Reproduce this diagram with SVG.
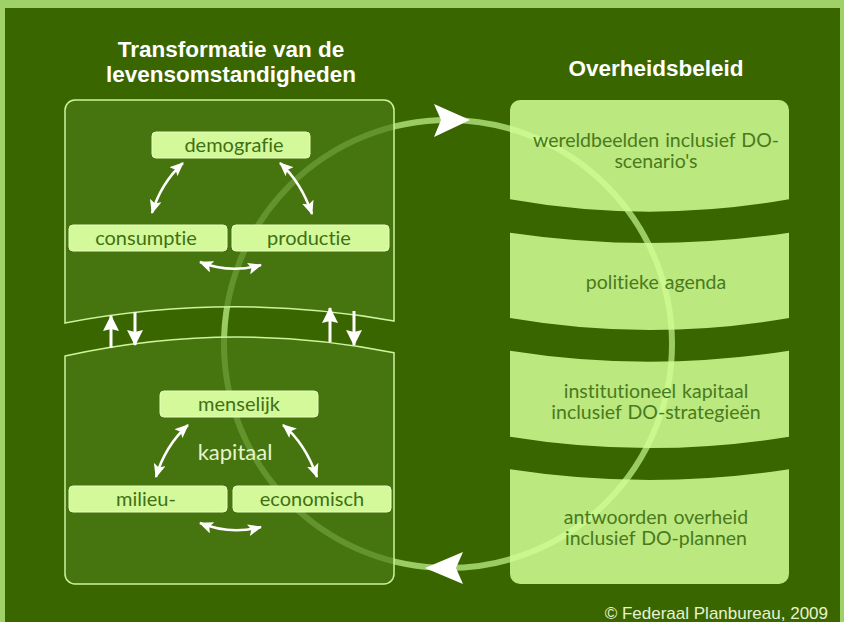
<svg xmlns="http://www.w3.org/2000/svg" width="844" height="622" viewBox="0 0 844 622">
<defs>
<style>
.title{font-family:"Liberation Sans",Arial,sans-serif;font-weight:bold;font-size:22.5px;fill:#ffffff;text-anchor:middle}
.panel{fill:#4b7a15;fill-opacity:0.7;stroke:#cdf49d;stroke-width:1.5}
.box{fill:#d3f99b;stroke:#e6ffbc;stroke-width:1}
.btxt{font-family:Lato,"Open Sans",sans-serif;font-size:20px;fill:#3f7012;text-anchor:middle;font-variant-ligatures:none}
.banner{fill:#d2ff95;fill-opacity:0.85}
.ntxt{font-family:Lato,"Open Sans",sans-serif;font-size:19.5px;fill:#4a7a1c;text-anchor:middle;font-variant-ligatures:none;word-spacing:1px}
.dbl{fill:none;stroke:#ffffff;stroke-width:2.5;marker-start:url(#ah);marker-end:url(#ah)}
.vt{fill:none;stroke:#ffffff;stroke-width:3;marker-end:url(#ah2)}
</style>
<marker id="ah" viewBox="0 0 14 12" refX="13" refY="6" markerWidth="14" markerHeight="12" markerUnits="userSpaceOnUse" orient="auto-start-reverse">
<path d="M0,0 L14,6 L0,12 L3,6 Z" fill="#ffffff"/>
</marker>
<marker id="ah2" viewBox="0 0 16 16" refX="15" refY="8" markerWidth="16" markerHeight="16" markerUnits="userSpaceOnUse" orient="auto">
<path d="M0,0 L16,8 L0,16 L2,8 Z" fill="#ffffff"/>
</marker>
</defs>
<rect x="0" y="0" width="844" height="622" fill="#a0d068"/>
<rect x="5" y="8" width="835" height="614" fill="#3a6600"/>

<g id="cycle">
<circle cx="448" cy="344" r="224" fill="none" stroke="#9acb64" stroke-width="6"/>
</g>

<g id="titles">
<text class="title" x="231" y="57">Transformatie van de</text>
<text class="title" x="231" y="82">levensomstandigheden</text>
<text class="title" x="656" y="76">Overheidsbeleid</text>
</g>

<g id="panel-levensomstandigheden">
<path class="panel" d="M65,110 A10,10 0 0 1 75,100 H384 A10,10 0 0 1 394,110 V321 Q229.5,291.7 65,323 Z"/>
</g>
<g id="panel-kapitaal">
<path class="panel" d="M65,356 Q229.5,319.7 394,352.7 V574 A10,10 0 0 1 384,584 H75 A10,10 0 0 1 65,574 Z"/>
<text x="235" y="460" font-family="Lato,'Open Sans',sans-serif" font-size="22" fill="#e4f6cc" text-anchor="middle">kapitaal</text>
</g>

<g id="banner-wereldbeelden">
<path class="banner" d="M510,110 A10,10 0 0 1 520,100 H779 A10,10 0 0 1 789,110 V199.3 Q649.5,224 510,199.3 Z"/>
<text class="ntxt" x="656" y="147">wereldbeelden inclusief DO-</text>
<text class="ntxt" x="656" y="168">scenario's</text>
</g>
<g id="banner-agenda">
<path class="banner" d="M510,232.7 Q649.5,253.3 789,232.7 V318 Q649.5,342 510,318 Z"/>
<text class="ntxt" x="656" y="289">politieke agenda</text>
</g>
<g id="banner-institutioneel">
<path class="banner" d="M510,350.7 Q649.5,372.7 789,350.7 V436.7 Q649.5,459.3 510,436.7 Z"/>
<text class="ntxt" x="656" y="398">institutioneel kapitaal</text>
<text class="ntxt" x="656" y="419">inclusief DO-strategieën</text>
</g>
<g id="banner-antwoorden">
<path class="banner" d="M510,469.3 Q649.5,490.7 789,469.3 V574 A10,10 0 0 1 779,584 H520 A10,10 0 0 1 510,574 Z"/>
<text class="ntxt" x="656" y="524">antwoorden overheid</text>
<text class="ntxt" x="656" y="545">inclusief DO-plannen</text>
</g>

<g id="node-demografie">
<rect class="box" x="152" y="132" width="158" height="26" rx="4"/>
<text class="btxt" x="234" y="152">demografie</text>
</g>
<g id="node-consumptie">
<rect class="box" x="69" y="225" width="158" height="26" rx="4"/>
<text class="btxt" x="146" y="245">consumptie</text>
</g>
<g id="node-productie">
<rect class="box" x="232" y="225" width="157" height="26" rx="4"/>
<text class="btxt" x="309" y="245">productie</text>
</g>
<g id="node-menselijk">
<rect class="box" x="160" y="391" width="158" height="26" rx="4"/>
<text class="btxt" x="239" y="411">menselijk</text>
</g>
<g id="node-milieu">
<rect class="box" x="69" y="486" width="158" height="26" rx="4"/>
<text class="btxt" x="146" y="506">milieu-</text>
</g>
<g id="node-economisch">
<rect class="box" x="233" y="486" width="158" height="26" rx="4"/>
<text class="btxt" x="312" y="506">economisch</text>
</g>

<g id="connectors">
<path class="dbl" d="M152,213 Q161,183 183,163"/>
<path class="dbl" d="M280,163 Q301,182 312,214"/>
<path class="dbl" d="M200,262 Q230,274 261,265"/>
<path class="dbl" d="M156,477 Q165,446 188,425"/>
<path class="dbl" d="M283,425 Q305,443 317,477"/>
<path class="dbl" d="M200,523 Q230,535 261,527"/>
<path class="vt" d="M111,348 V316"/>
<path class="vt" d="M135,312 V345"/>
<path class="vt" d="M330,342 V308"/>
<path class="vt" d="M354,311 V345"/>
<polygon points="470,120 434,104 441,120 434,137" fill="#ffffff"/>
<polygon points="425,568 463,552 456,568 463,584" fill="#ffffff"/>
</g>

<text x="828" y="619" font-family="'Liberation Sans',Arial,sans-serif" font-size="17" fill="#e6f3cf" text-anchor="end">© Federaal Planbureau, 2009</text>
</svg>
